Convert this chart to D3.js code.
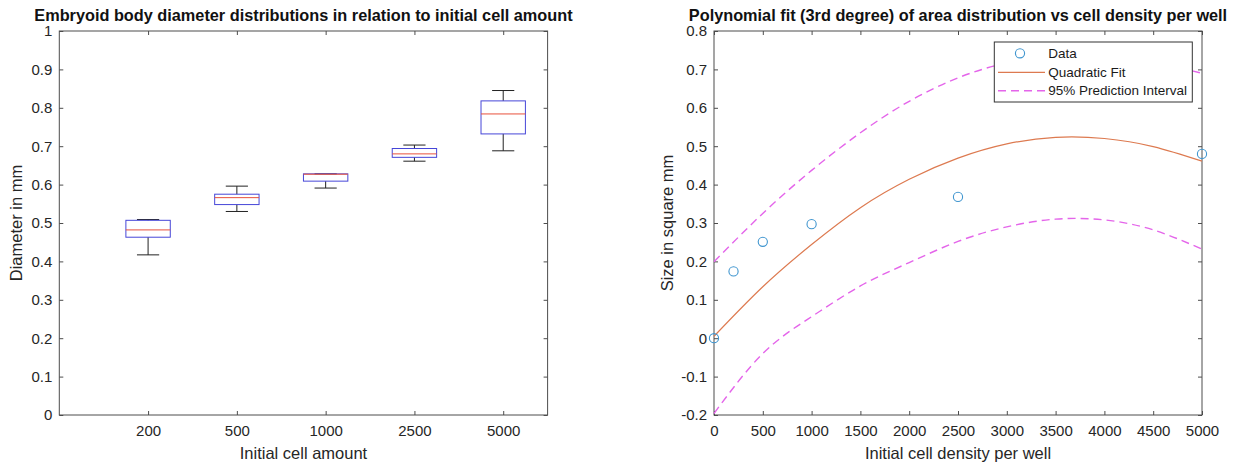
<!DOCTYPE html>
<html>
<head>
<meta charset="utf-8">
<script src="https://cdn.jsdelivr.net/npm/d3@7"></script>
<style>
  body { margin: 0; background: #fff; }
  svg { display: block; font-family: "Liberation Sans", Arial, sans-serif; }
  .tick text { fill: #262626; font-size: 15px; }
  .tick line { stroke: #4d4d4d; }
</style>
</head>
<body>
<div id="chart"></div>
<script>
// left panel: box plot
const categories = ["200", "500", "1000", "2500", "5000"];
const whiskerLow = [0.417, 0.530, 0.591, 0.661, 0.688];
const q1 = [0.463, 0.548, 0.609, 0.671, 0.732];
const medians = [0.482, 0.566, 0.627, 0.680, 0.784];
const q3 = [0.507, 0.575, 0.628, 0.694, 0.818];
const whiskerHigh = [0.509, 0.596, 0.628, 0.703, 0.845];
const leftYTicks = [0, 0.1, 0.2, 0.3, 0.4, 0.5, 0.6, 0.7, 0.8, 0.9, 1];
const leftYLabels = ["0", "0.1", "0.2", "0.3", "0.4", "0.5", "0.6", "0.7", "0.8", "0.9", "1"];

// right panel: fit
const cellDensity = [0, 200, 500, 1000, 2500, 5000];
const areaSize = [0, 0.174, 0.251, 0.297, 0.368, 0.480];
const curveX = [0, 500, 1000, 1500, 2000, 2500, 3000, 3500, 4000, 4500, 5000];
const fitY = [0.005, 0.134, 0.244, 0.340, 0.414, 0.469, 0.506, 0.523, 0.520, 0.499, 0.461];
const upperY = [0.199, 0.325, 0.437, 0.535, 0.617, 0.678, 0.717, 0.735, 0.735, 0.718, 0.690];
const lowerY = [-0.196, -0.040, 0.056, 0.136, 0.197, 0.252, 0.290, 0.310, 0.308, 0.282, 0.232];
const rightXTicks = [0, 500, 1000, 1500, 2000, 2500, 3000, 3500, 4000, 4500, 5000];
const rightYTicks = [-0.2, -0.1, 0, 0.1, 0.2, 0.3, 0.4, 0.5, 0.6, 0.7, 0.8];
const rightYLabels = ["-0.2", "-0.1", "0", "0.1", "0.2", "0.3", "0.4", "0.5", "0.6", "0.7", "0.8"];
const legendLabels = ["Data", "Quadratic Fit", "95% Prediction Interval"];

const W = 1241, H = 464;
const svg = d3.select("#chart").append("svg").attr("width", W).attr("height", H);

const plotTop = 31, plotBottom = 415;
const axisColor = "#4d4d4d";

function frame(g, x0, x1) {
    g.append("rect")
        .attr("x", x0).attr("y", plotTop)
        .attr("width", x1 - x0).attr("height", plotBottom - plotTop)
        .attr("fill", "none").attr("stroke", axisColor).attr("stroke-width", 1);
}

function cleanAxis(sel) {
    sel.select(".domain").remove();
    sel.selectAll(".tick line").attr("stroke", axisColor);
}

// ---------- left ----------
const L = { x0: 59.3, x1: 547.6 };
const gl = svg.append("g");
const xl = d3.scaleLinear().domain([0, 5.5]).range([L.x0, L.x1]);
const yl = d3.scaleLinear().domain([0, 1]).range([plotBottom, plotTop]);

gl.append("g").attr("transform", `translate(0,${plotBottom})`)
    .call(d3.axisBottom(xl).tickValues([1, 2, 3, 4, 5]).tickFormat((d, i) => categories[i])
        .tickSizeInner(-4).tickSizeOuter(0).tickPadding(10))
    .call(cleanAxis);
gl.append("g").attr("transform", `translate(0,${plotTop})`)
    .call(d3.axisTop(xl).tickValues([1, 2, 3, 4, 5]).tickFormat("").tickSizeInner(-4).tickSizeOuter(0))
    .call(cleanAxis);
gl.append("g").attr("transform", `translate(${L.x0},0)`)
    .call(d3.axisLeft(yl).tickValues(leftYTicks).tickFormat((d, i) => leftYLabels[i])
        .tickSizeInner(-4).tickSizeOuter(0).tickPadding(7))
    .call(cleanAxis);
gl.append("g").attr("transform", `translate(${L.x1},0)`)
    .call(d3.axisRight(yl).tickValues(leftYTicks).tickFormat("").tickSizeInner(-4).tickSizeOuter(0))
    .call(cleanAxis);
frame(gl, L.x0, L.x1);

const boxW = xl(0.5) - xl(0);
const capW = boxW / 2;
const boxes = gl.append("g").selectAll("g").data(categories).enter().append("g");

// whiskers
boxes.append("line")
    .attr("x1", (d, i) => xl(i + 1)).attr("x2", (d, i) => xl(i + 1))
    .attr("y1", (d, i) => yl(q3[i])).attr("y2", (d, i) => yl(whiskerHigh[i]))
    .attr("stroke", "#222");
boxes.append("line")
    .attr("x1", (d, i) => xl(i + 1)).attr("x2", (d, i) => xl(i + 1))
    .attr("y1", (d, i) => yl(q1[i])).attr("y2", (d, i) => yl(whiskerLow[i]))
    .attr("stroke", "#222");
boxes.append("line")
    .attr("x1", (d, i) => xl(i + 1) - capW / 2).attr("x2", (d, i) => xl(i + 1) + capW / 2)
    .attr("y1", (d, i) => yl(whiskerHigh[i])).attr("y2", (d, i) => yl(whiskerHigh[i]))
    .attr("stroke", "#222");
boxes.append("line")
    .attr("x1", (d, i) => xl(i + 1) - capW / 2).attr("x2", (d, i) => xl(i + 1) + capW / 2)
    .attr("y1", (d, i) => yl(whiskerLow[i])).attr("y2", (d, i) => yl(whiskerLow[i]))
    .attr("stroke", "#222");
boxes.append("rect")
    .attr("x", (d, i) => xl(i + 1) - boxW / 2)
    .attr("y", (d, i) => yl(q3[i]))
    .attr("width", boxW)
    .attr("height", (d, i) => yl(q1[i]) - yl(q3[i]))
    .attr("fill", "none").attr("stroke", "#4646d8").attr("stroke-width", 1);
boxes.append("line")
    .attr("x1", (d, i) => xl(i + 1) - boxW / 2).attr("x2", (d, i) => xl(i + 1) + boxW / 2)
    .attr("y1", (d, i) => yl(medians[i])).attr("y2", (d, i) => yl(medians[i]))
    .attr("stroke", "#e8503c").attr("stroke-width", 1);

gl.append("text")
    .attr("x", (L.x0 + L.x1) / 2).attr("y", 21)
    .attr("text-anchor", "middle").attr("font-weight", "bold").attr("font-size", 16.3).attr("fill", "#111")
    .text("Embryoid body diameter distributions in relation to initial cell amount");
gl.append("text")
    .attr("x", (L.x0 + L.x1) / 2).attr("y", 459)
    .attr("text-anchor", "middle").attr("font-size", 16.5).attr("fill", "#262626")
    .text("Initial cell amount");
gl.append("text")
    .attr("transform", `translate(22,${(plotTop + plotBottom) / 2}) rotate(-90)`)
    .attr("text-anchor", "middle").attr("font-size", 16.5).attr("fill", "#262626")
    .text("Diameter in mm");

// ---------- right ----------
const R = { x0: 714, x1: 1202 };
const gr = svg.append("g");
const xr = d3.scaleLinear().domain([0, 5000]).range([R.x0, R.x1]);
const yr = d3.scaleLinear().domain([-0.2, 0.8]).range([plotBottom, plotTop]);

gr.append("g").attr("transform", `translate(0,${plotBottom})`)
    .call(d3.axisBottom(xr).tickValues(rightXTicks).tickFormat(d3.format("d"))
        .tickSizeInner(-4).tickSizeOuter(0).tickPadding(10))
    .call(cleanAxis);
gr.append("g").attr("transform", `translate(0,${plotTop})`)
    .call(d3.axisTop(xr).tickValues(rightXTicks).tickFormat("").tickSizeInner(-4).tickSizeOuter(0))
    .call(cleanAxis);
gr.append("g").attr("transform", `translate(${R.x0},0)`)
    .call(d3.axisLeft(yr).tickValues(rightYTicks).tickFormat((d, i) => rightYLabels[i])
        .tickSizeInner(-4).tickSizeOuter(0).tickPadding(7))
    .call(cleanAxis);
gr.append("g").attr("transform", `translate(${R.x1},0)`)
    .call(d3.axisRight(yr).tickValues(rightYTicks).tickFormat("").tickSizeInner(-4).tickSizeOuter(0))
    .call(cleanAxis);
frame(gr, R.x0, R.x1);

const line = (ys) => d3.line()
    .x((d, i) => xr(curveX[i]))
    .y((d, i) => yr(ys[i]))
    .curve(d3.curveNatural)(ys);

gr.append("path").attr("d", line(fitY))
    .attr("fill", "none").attr("stroke", "#dd7a50").attr("stroke-width", 1.2);
gr.append("path").attr("d", line(upperY))
    .attr("fill", "none").attr("stroke", "#e465ea").attr("stroke-width", 1.4).attr("stroke-dasharray", "8,5");
gr.append("path").attr("d", line(lowerY))
    .attr("fill", "none").attr("stroke", "#e465ea").attr("stroke-width", 1.4).attr("stroke-dasharray", "8,5");

gr.append("g").selectAll("circle").data(cellDensity).enter().append("circle")
    .attr("cx", d => xr(d))
    .attr("cy", (d, i) => yr(areaSize[i]))
    .attr("r", 4.6)
    .attr("fill", "none").attr("stroke", "#3f95cf").attr("stroke-width", 1.1);

// legend
const lg = gr.append("g");
lg.append("rect").attr("x", 994.3).attr("y", 42).attr("width", 198).attr("height", 60)
    .attr("fill", "#fff").attr("stroke", "#333").attr("stroke-width", 1);
const rowY = [53.3, 72.3, 90.7];
lg.append("circle").attr("cx", 1020).attr("cy", rowY[0]).attr("r", 4.6)
    .attr("fill", "none").attr("stroke", "#3f95cf").attr("stroke-width", 1.1);
lg.append("line").attr("x1", 998).attr("x2", 1045).attr("y1", rowY[1]).attr("y2", rowY[1])
    .attr("stroke", "#dd7a50").attr("stroke-width", 1.2);
lg.append("line").attr("x1", 998).attr("x2", 1045).attr("y1", rowY[2]).attr("y2", rowY[2])
    .attr("stroke", "#e465ea").attr("stroke-width", 1.4).attr("stroke-dasharray", "8,5");
lg.selectAll("text.lab").data(legendLabels).enter().append("text")
    .attr("class", "lab")
    .attr("x", 1048.3).attr("y", (d, i) => rowY[i])
    .attr("dy", "0.35em").attr("font-size", 13.5).attr("fill", "#1a1a1a")
    .text(d => d);

gr.append("text")
    .attr("x", (R.x0 + R.x1) / 2).attr("y", 21)
    .attr("text-anchor", "middle").attr("font-weight", "bold").attr("font-size", 16.3).attr("fill", "#111")
    .text("Polynomial fit (3rd degree) of area distribution vs cell density per well");
gr.append("text")
    .attr("x", (R.x0 + R.x1) / 2).attr("y", 459)
    .attr("text-anchor", "middle").attr("font-size", 16.5).attr("fill", "#262626")
    .text("Initial cell density per well");
gr.append("text")
    .attr("transform", `translate(673,${(plotTop + plotBottom) / 2}) rotate(-90)`)
    .attr("text-anchor", "middle").attr("font-size", 16.5).attr("fill", "#262626")
    .text("Size in square mm");
</script>
</body>
</html>
